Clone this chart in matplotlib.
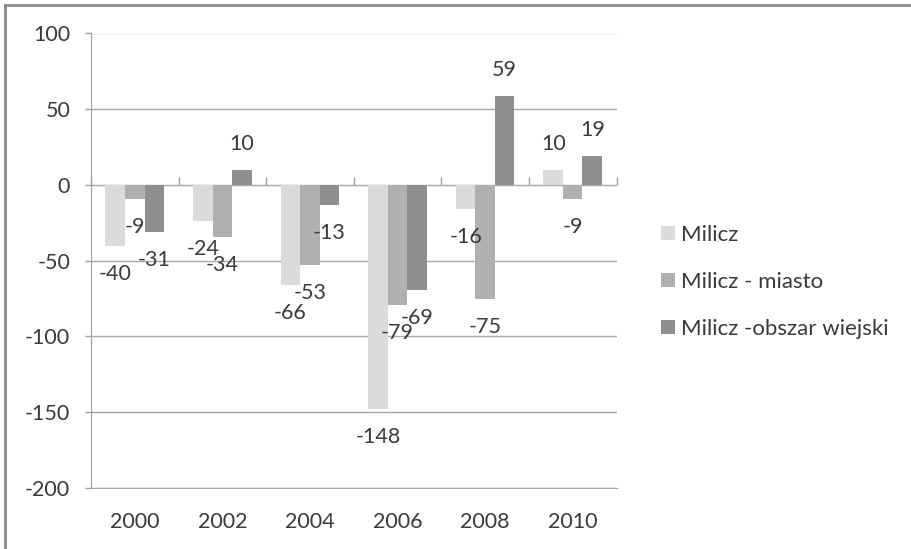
import matplotlib
matplotlib.use("Agg")
import matplotlib.pyplot as plt
import numpy as np
from matplotlib.lines import Line2D

plt.rcParams['font.family'] = ['Lato', 'DejaVu Sans']
plt.rcParams['axes.unicode_minus'] = False

years = ['2000', '2002', '2004', '2006', '2008', '2010']
series_names = ['Milicz', 'Milicz - miasto', 'Milicz -obszar wiejski']
milicz = [-40, -24, -66, -148, -16, 10]
miasto = [-9, -34, -53, -79, -75, -9]
wiejski = [-31, 10, -13, -69, 59, 19]
colors = ['#dadbdc', '#afb0b2', '#8e8f91']

W, H = 911, 549
fig = plt.figure(figsize=(W / 100, H / 100), dpi=100)
ax = fig.add_axes([91 / W, 1 - 488 / H, (616.5 - 91) / W, (488 - 33.5) / H])

x = np.arange(len(years))
bw = 0.223
txt_color = '#3a3a3a'
fs = 15.5
series = [milicz, miasto, wiejski]
for i, (vals, c, name) in enumerate(zip(series, colors, series_names)):
    pos = x + (i - 1) * bw
    ax.bar(pos, vals, width=bw, color=c, label=name, zorder=3)
    for p, v in zip(pos, vals):
        off = 26 if v > 0 else -28
        ax.annotate(str(v), (p, v), xytext=(0, off), textcoords='offset pixels',
                    ha='center', va='center', fontsize=fs, color=txt_color, zorder=4)

ax.set_xlim(-0.5, len(years) - 0.5)
ax.set_ylim(-200, 100)
ax.set_yticks([100, 50, 0, -50, -100, -150, -200])
ax.set_xticks(x)
ax.set_xticklabels(years)
ax.tick_params(axis='x', length=0, pad=17, labelsize=fs, labelcolor=txt_color)
ax.tick_params(axis='y', length=4, width=1, color='#a0a0a0', pad=11,
               labelsize=fs, labelcolor=txt_color)
ax.grid(axis='y', color='#a8a8a8', lw=1, zorder=0)
for s in ['top', 'right']:
    ax.spines[s].set_visible(False)
ax.spines['left'].set_color('#a0a0a0')
ax.spines['bottom'].set_color('#a8a8a8')

# category axis crossing at zero with tick marks between groups
ymin, ymax = ax.get_ylim()
sec = ax.secondary_xaxis((0 - ymin) / (ymax - ymin))
sec.set_xticks(np.arange(-0.5, len(years), 1.0))
sec.tick_params(axis='x', direction='out', length=6, width=1, color='#a0a0a0',
                labelbottom=False, labeltop=False)
sec.spines['bottom'].set_color('#a0a0a0')
sec.spines['top'].set_visible(False)

leg = fig.legend(loc='upper left', bbox_to_anchor=(652 / W, 1 - 216 / H),
                 frameon=False, fontsize=16, labelcolor=txt_color,
                 handlelength=0.62, handleheight=0.62, handletextpad=0.3,
                 labelspacing=1.22, borderaxespad=0)

# figure border (left and top visible)
fig.add_artist(Line2D([5 / W, 5 / W], [0, 1 - 5 / H], transform=fig.transFigure,
                      color='#8a8a8a', lw=2))
fig.add_artist(Line2D([5 / W, 1], [1 - 5 / H, 1 - 5 / H], transform=fig.transFigure,
                      color='#8a8a8a', lw=2))

fig.savefig('out.png', dpi=100)
